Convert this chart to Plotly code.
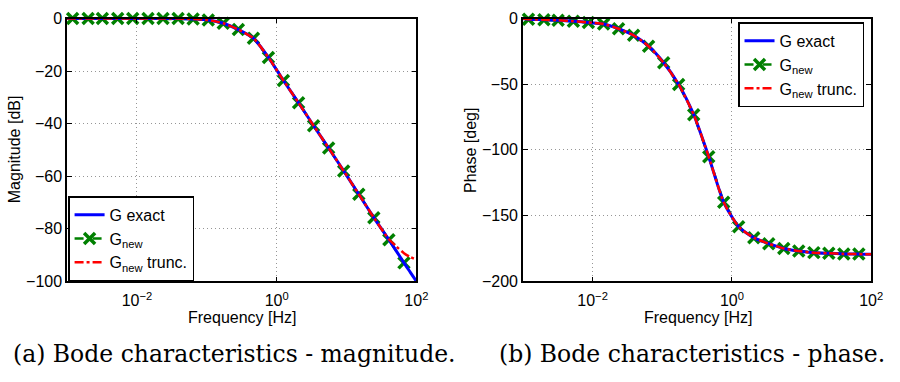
import plotly.graph_objects as go

# ---------------- data ----------------
marker_freq = [0.0012, 0.0020, 0.0032, 0.0053, 0.0087, 0.0144, 0.0236, 0.0388,
               0.0637, 0.105, 0.172, 0.283, 0.465, 0.763, 1.25, 2.06, 3.38,
               5.55, 9.11, 15.0, 24.6, 40.4, 66.4]
mag_new = [0, 0, 0, 0, 0, 0, 0, 0, -0.2, -0.6, -1.8, -4.2, -7.5, -14.8, -23.6,
           -32.1, -40.8, -49.3, -58.0, -66.9, -75.8, -84.2, -93.0]
phase_new = [-0.5, -0.9, -1.3, -2.1, -3.0, -4.2, -7.8, -12.8, -21.1, -33.7,
             -50.2, -73.2, -105.2, -139.9, -158.5, -166.8, -171.4, -175.0,
             -177.0, -178.2, -178.7, -179.2, -179.3]

line_freq = [0.001, 0.0012, 0.0020, 0.0032, 0.0053, 0.0087, 0.0144, 0.0236,
             0.0388, 0.0637, 0.105, 0.172, 0.283, 0.465, 0.763, 1.25, 2.06,
             3.38, 5.55, 9.11, 15.0, 24.6, 40.4, 52.0, 66.4, 82.0, 100.0]
mag_exact = [0, 0, 0, 0, 0, 0, 0, 0, 0, -0.2, -0.6, -1.8, -4.2, -7.5, -14.8,
             -23.6, -32.1, -40.8, -49.3, -58.0, -66.9, -75.8, -84.2, -88.6,
             -93.0, -96.6, -100.0]
mag_trunc = [0, 0, 0, 0, 0, 0, 0, 0, 0, -0.2, -0.6, -1.8, -4.2, -7.5, -14.8,
             -23.6, -32.1, -40.8, -49.3, -58.0, -66.9, -75.8, -84.0, -86.8,
             -89.3, -90.8, -91.8]
phase_exact = [0, -0.5, -0.9, -1.3, -2.1, -3.0, -4.2, -7.8, -12.8, -21.1,
               -33.7, -50.2, -73.2, -105.2, -139.9, -158.5, -166.8, -171.4,
               -175.0, -177.0, -178.2, -178.7, -179.2, -179.3, -179.3, -179.4,
               -179.5]
phase_trunc = phase_exact

x_tickvals = [0.01, 1, 100]
x_ticktext = ["10<sup>\u22122</sup>", "10<sup>0</sup>", "10<sup>2</sup>"]
mag_ticks = [0, -20, -40, -60, -80, -100]
phase_ticks = [0, -50, -100, -150, -200]

names = ["G exact", "G<sub>new</sub>", "G<sub>new</sub> trunc."]
captions = ["(a) Bode characteristics - magnitude.",
            "(b) Bode characteristics - phase."]

# ---------------- styling ----------------
SANS = "Liberation Sans, Arial, sans-serif"
BLUE = "rgb(0,0,255)"
GREEN = "rgb(0,128,0)"
RED = "rgb(255,0,0)"

fig = go.Figure()


def add_panel(xa, ya, legend, y_exact, y_new, y_trunc):
    fig.add_trace(go.Scatter(
        x=marker_freq, y=y_new, name=names[1], mode="lines+markers",
        line=dict(color=GREEN, width=2.5, dash="dash"),
        marker=dict(symbol="x-thin", size=11, color=GREEN,
                    line=dict(color=GREEN, width=3.5)),
        xaxis=xa, yaxis=ya, legend=legend, legendrank=2, cliponaxis=False))
    fig.add_trace(go.Scatter(
        x=line_freq, y=y_exact, name=names[0], mode="lines",
        line=dict(color=BLUE, width=3, shape="spline", smoothing=0.6),
        xaxis=xa, yaxis=ya, legend=legend, legendrank=1))
    fig.add_trace(go.Scatter(
        x=line_freq, y=y_trunc, name=names[2], mode="lines",
        line=dict(color=RED, width=2.5, dash="dashdot", shape="spline",
                  smoothing=0.6),
        xaxis=xa, yaxis=ya, legend=legend, legendrank=3))


add_panel("x", "y", "legend", mag_exact, mag_new, mag_trunc)
add_panel("x2", "y2", "legend2", phase_exact, phase_new, phase_trunc)

W, H = 900, 382
ydom = [1 - 286 / H, 1 - 11 / H]

axis_common = dict(
    showline=True, linecolor="black", linewidth=1.5, mirror="allticks",
    ticks="inside", ticklen=5, tickcolor="black", tickwidth=1,
    showgrid=True, gridcolor="rgb(150,150,150)", griddash="1px,3px",
    gridwidth=1, zeroline=False,
    tickfont=dict(family=SANS, size=16, color="black"),
)

fig.update_layout(
    width=W, height=H, margin=dict(l=0, r=0, t=0, b=0),
    paper_bgcolor="white", plot_bgcolor="white",
    font=dict(family=SANS, size=16, color="black"),
    xaxis=dict(type="log", range=[-3, 2], domain=[68 / W, 422 / W],
               tickvals=x_tickvals, ticktext=x_ticktext, anchor="y",
               ticklabelstandoff=4, **axis_common),
    yaxis=dict(range=[-100, 0], domain=ydom, tickvals=mag_ticks,
               ticktext=[str(v).replace("-", "\u2212") for v in mag_ticks],
               anchor="x", **axis_common),
    xaxis2=dict(type="log", range=[-3, 2], domain=[530 / W, 883 / W],
                tickvals=x_tickvals, ticktext=x_ticktext, anchor="y2",
                ticklabelstandoff=4, **axis_common),
    yaxis2=dict(range=[-200, 0], domain=ydom, tickvals=phase_ticks,
                ticktext=[str(v).replace("-", "\u2212") for v in phase_ticks],
                anchor="x2", **axis_common),
    legend=dict(x=69 / W, y=1 - 197 / H, xanchor="left", yanchor="top",
                bgcolor="white", bordercolor="black", borderwidth=1.5,
                font=dict(family=SANS, size=16), tracegroupgap=0,
                itemwidth=30),
    legend2=dict(x=748 / W, y=1 - 15 / H, xanchor="left", yanchor="top",
                 bgcolor="white", bordercolor="black", borderwidth=1.5,
                 font=dict(family=SANS, size=16), tracegroupgap=0,
                 itemwidth=30),
    showlegend=True,
)

annots = [
    dict(text="Frequency [Hz]", x=245 / W, y=1 - 324 / H),
    dict(text="Frequency [Hz]", x=707 / W, y=1 - 324 / H),
    dict(text="Magnitude [dB]", x=15 / W, y=1 - 148 / H, textangle=-90),
    dict(text="Phase [deg]", x=477 / W, y=1 - 149 / H, textangle=-90),
]
for a in annots:
    fig.add_annotation(xref="paper", yref="paper", xanchor="center",
                       yanchor="middle", showarrow=False,
                       font=dict(family=SANS, size=16, color="black"), **a)

for cx, txt in zip([238, 701], captions):
    fig.add_annotation(xref="paper", yref="paper", x=cx / W, y=1 - 362 / H,
                       xanchor="center", yanchor="middle", showarrow=False,
                       text=txt,
                       font=dict(family="DejaVu Serif, serif", size=23.5,
                                 color="black"))

fig.write_html("out.html")
